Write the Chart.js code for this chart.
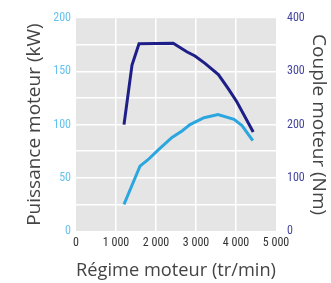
<!DOCTYPE html>
<html>
<head>
<meta charset="utf-8">
<script src="https://cdn.jsdelivr.net/npm/chart.js@4/dist/chart.umd.min.js"></script>
<style>
    html, body { margin: 0; padding: 0; background: #ffffff; }
    #wrap { width: 331px; height: 283px; }
</style>
</head>
<body>
<div id="wrap"><canvas id="chart" width="331" height="283"></canvas></div>
<script>
// ========================================
// DATA
// ========================================

const powerRpm = [1200, 1400, 1600, 1800, 2050, 2400, 2650, 2850, 3200, 3550, 3950, 4150, 4420];
const powerKw = [25, 43, 61, 67, 76, 88, 94, 100, 106.5, 109.5, 105, 99, 85];

const torqueRpm = [1200, 1400, 1575, 2430, 2770, 2975, 3225, 3560, 3810, 4020, 4430];
const torqueNm = [200, 312, 352, 353, 337, 329, 315, 294, 267, 243, 186];

const rpmTicks = [0, 1000, 2000, 3000, 4000, 5000];

// ========================================
// STYLE
// ========================================

const COLORS = {
    power: '#2ba6de',
    torque: '#1e1e88',
    panel: '#e5e5e5',
    grid: '#ffffff',
    leftTicks: '#66c2ee',
    rightTicks: '#4545a0',
    xTicks: '#333333',
    title: '#444444'
};

const TICK_FONT = { family: "'Roboto Condensed', 'Liberation Sans', Arial, sans-serif", size: 12 };
const TITLE_FONT = { family: "'Open Sans', Lato, sans-serif", size: 19 };

// "1 000" style thousands separator
function fmtRpm(v) {
    return v >= 1000 ? Math.floor(v / 1000) + ' ' + String(v % 1000).padStart(3, '0') : String(v);
}

// grey plot panel behind the grid
const panelPlugin = {
    id: 'panel',
    beforeDraw(chart) {
        const { ctx, chartArea: a } = chart;
        ctx.save();
        ctx.fillStyle = COLORS.panel;
        ctx.fillRect(a.left, a.top, a.right - a.left, a.bottom - a.top);
        ctx.restore();
    }
};

const toPoints = (xs, ys) => xs.map((x, i) => ({ x, y: ys[i] }));

new Chart(document.getElementById('chart'), {
    type: 'line',
    data: {
        datasets: [
            {
                label: 'Couple moteur',
                data: toPoints(torqueRpm, torqueNm),
                yAxisID: 'y2',
                borderColor: COLORS.torque,
                borderWidth: 3,
                pointRadius: 0,
                tension: 0
            },
            {
                label: 'Puissance moteur',
                data: toPoints(powerRpm, powerKw),
                yAxisID: 'y',
                borderColor: COLORS.power,
                borderWidth: 3,
                pointRadius: 0,
                tension: 0
            }
        ]
    },
    options: {
        responsive: false,
        animation: false,
        layout: { padding: { top: 10, left: 0, right: 0, bottom: 0 } },
        plugins: {
            legend: { display: false },
            tooltip: { enabled: false }
        },
        scales: {
            x: {
                type: 'linear',
                min: 0,
                max: 5000,
                afterFit(s) { s.height = 52; },
                afterBuildTicks(s) { s.ticks = rpmTicks.map(v => ({ value: v })); },
                border: { display: false },
                grid: {
                    drawTicks: false,
                    lineWidth: 1.5,
                    color: c => (c.tick && (c.tick.value === 0 || c.tick.value === 5000)) ? 'rgba(0,0,0,0)' : COLORS.grid
                },
                ticks: {
                    padding: 5,
                    color: COLORS.xTicks,
                    font: TICK_FONT,
                    maxRotation: 0,
                    callback: v => fmtRpm(v)
                },
                title: {
                    display: true,
                    text: 'Régime moteur (tr/min)',
                    color: COLORS.title,
                    font: TITLE_FONT,
                    padding: { top: 0, bottom: 1 }
                }
            },
            y: {
                position: 'left',
                min: 0,
                max: 200,
                afterFit(s) { s.width = 76; },
                border: { display: false },
                grid: {
                    drawTicks: false,
                    lineWidth: 1.5,
                    color: c => (c.tick && (c.tick.value === 0 || c.tick.value === 200)) ? 'rgba(0,0,0,0)' : COLORS.grid
                },
                ticks: {
                    stepSize: 25,
                    padding: 5,
                    color: COLORS.leftTicks,
                    font: TICK_FONT,
                    callback: v => (v % 50 === 0 ? v : '')
                },
                title: {
                    display: true,
                    text: 'Puissance moteur (kW)',
                    color: COLORS.title,
                    font: TITLE_FONT,
                    padding: { top: 23, bottom: 0 }
                }
            },
            y2: {
                position: 'right',
                min: 0,
                max: 400,
                afterFit(s) { s.width = 55; },
                border: { display: false },
                grid: { display: false, drawTicks: false },
                ticks: {
                    stepSize: 100,
                    padding: 11,
                    color: COLORS.rightTicks,
                    font: TICK_FONT
                },
                title: {
                    display: true,
                    text: 'Couple moteur (Nm)',
                    color: COLORS.title,
                    font: TITLE_FONT,
                    padding: { top: 1, bottom: 0 }
                }
            }
        }
    },
    plugins: [panelPlugin]
});
</script>
</body>
</html>
